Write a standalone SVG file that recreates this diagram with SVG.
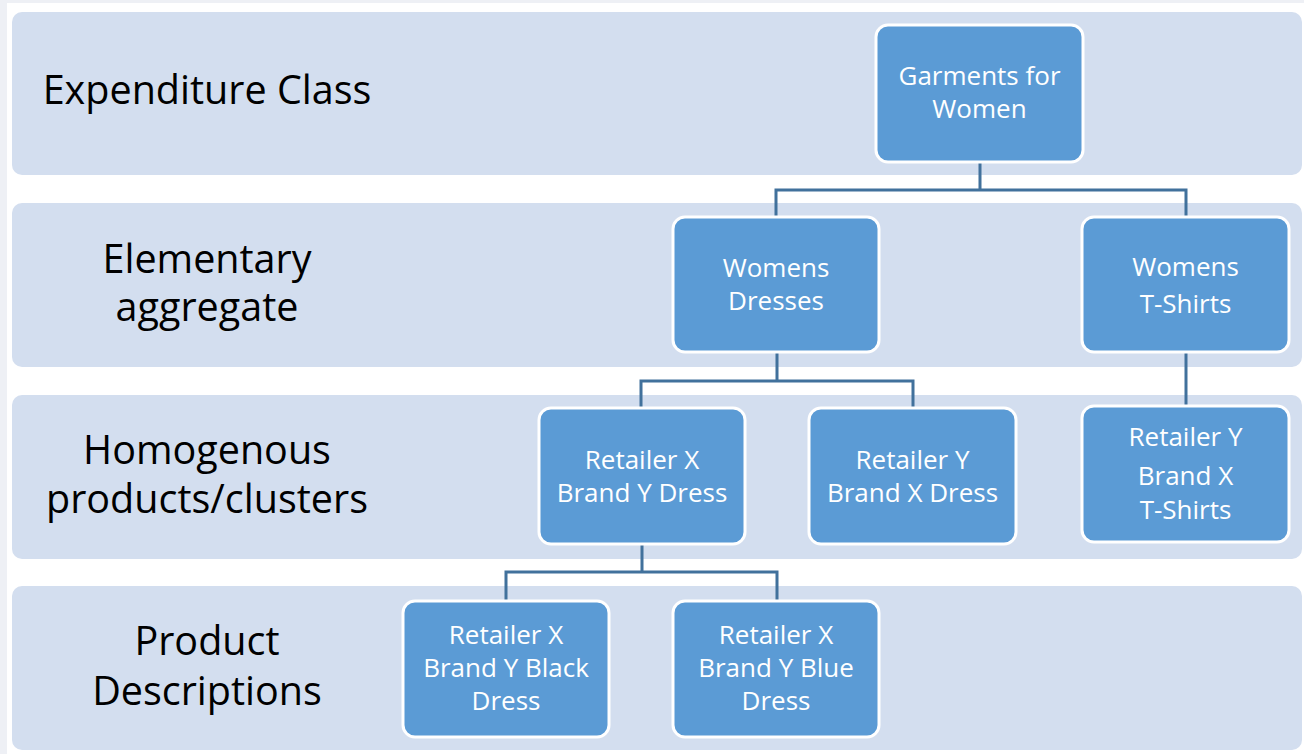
<svg xmlns="http://www.w3.org/2000/svg" width="1304" height="754" viewBox="0 0 1304 754">
<style>
.band{fill:#d3deef}
.node rect{fill:#5b9bd5;stroke:#ffffff;stroke-width:3}
.node text{fill:#ffffff;font-family:"Open Sans","Liberation Sans",sans-serif;font-size:26px;text-anchor:middle}
.lbl{fill:#000000;font-family:"Open Sans","Liberation Sans",sans-serif;font-size:39.5px;text-anchor:middle}
.conn{fill:none;stroke:#41719c;stroke-width:3}
</style>
<rect x="0" y="0" width="1304" height="754" fill="#eef0f5"/>
<rect x="7" y="3" width="1297" height="751" fill="#ffffff"/>
<g id="bands">
<rect class="band" x="12" y="12" width="1290" height="163" rx="10"/>
<rect class="band" x="12" y="203" width="1290" height="164" rx="10"/>
<rect class="band" x="12" y="395" width="1290" height="164" rx="10"/>
<rect class="band" x="12" y="586" width="1290" height="164" rx="10"/>
</g>
<g id="labels">
<text class="lbl" x="207" y="104">Expenditure Class</text>
<text class="lbl" x="207" y="273">Elementary</text>
<text class="lbl" x="207" y="321">aggregate</text>
<text class="lbl" x="207" y="464">Homogenous</text>
<text class="lbl" x="207" y="513">products/clusters</text>
<text class="lbl" x="207" y="655">Product</text>
<text class="lbl" x="207" y="705">Descriptions</text>
</g>
<g id="connectors">
<path class="conn" d="M980 162 V190 M776 217 V190 H1186 V217"/>
<path class="conn" d="M777 352 V381 M641 409 V381 H913 V409"/>
<path class="conn" d="M1186 352 V406"/>
<path class="conn" d="M642 544 V572 M506 601 V572 H777 V601"/>
</g>
<g id="n-garments" class="node"><rect x="876" y="25" width="207" height="137" rx="12"/><text x="979.5" y="85">Garments for</text><text x="979.5" y="118">Women</text></g>
<g id="n-dresses" class="node"><rect x="673" y="217" width="206" height="135" rx="12"/><text x="776" y="277">Womens</text><text x="776" y="310">Dresses</text></g>
<g id="n-tshirts" class="node"><rect x="1082" y="217" width="207" height="135" rx="12"/><text x="1185.5" y="276">Womens</text><text x="1185.5" y="313">T-Shirts</text></g>
<g id="n-rxby" class="node"><rect x="539" y="408" width="206" height="136" rx="12"/><text x="642" y="469">Retailer X</text><text x="642" y="502">Brand Y Dress</text></g>
<g id="n-rybx" class="node"><rect x="809" y="408" width="207" height="136" rx="12"/><text x="912.5" y="469">Retailer Y</text><text x="912.5" y="502">Brand X Dress</text></g>
<g id="n-rybxt" class="node"><rect x="1082" y="406" width="207" height="136" rx="12"/><text x="1185.5" y="446">Retailer Y</text><text x="1185.5" y="485">Brand X</text><text x="1185.5" y="519">T-Shirts</text></g>
<g id="n-black" class="node"><rect x="403" y="601" width="206" height="136" rx="12"/><text x="506" y="644">Retailer X</text><text x="506" y="677">Brand Y Black</text><text x="506" y="710">Dress</text></g>
<g id="n-blue" class="node"><rect x="673" y="601" width="206" height="136" rx="12"/><text x="776" y="644">Retailer X</text><text x="776" y="677">Brand Y Blue</text><text x="776" y="710">Dress</text></g>
</svg>
